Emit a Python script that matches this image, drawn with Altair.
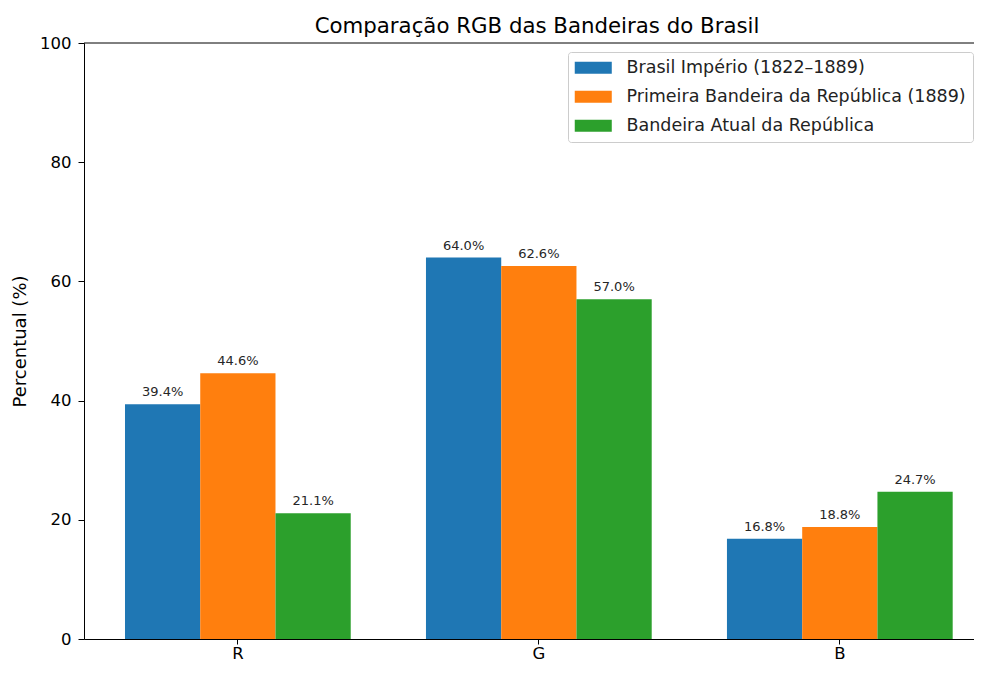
import altair as alt
import pandas as pd

canais = ["R", "G", "B"]
series = [
    "Brasil Império (1822–1889)",
    "Primeira Bandeira da República (1889)",
    "Bandeira Atual da República",
]
valores_imperio = [39.4, 64.0, 16.8]
valores_primeira = [44.6, 62.6, 18.8]
valores_atual = [21.1, 57.0, 24.7]
cores = ["#1f77b4", "#ff7f0e", "#2ca02c"]
y_ticks = [0, 20, 40, 60, 80, 100]

rows = []
for s, vals in zip(series, [valores_imperio, valores_primeira, valores_atual]):
    for c, v in zip(canais, vals):
        rows.append({"canal": c, "serie": s, "valor": v, "rotulo": f"{v:.1f}%"})
df = pd.DataFrame(rows)

FONT = "DejaVu Sans"

x_enc = alt.X(
    "canal:N",
    sort=canais,
    title=None,
    scale=alt.Scale(paddingInner=0.25, paddingOuter=0.1035, align=0.658, round=False),
    axis=alt.Axis(labelAngle=0, labelFontSize=16.5, labelColor="black", tickColor="black",
                  tickSize=5, labelPadding=1, domainColor="black", labelFont=FONT),
)
xo_enc = alt.XOffset("serie:N", sort=series,
                     scale=alt.Scale(paddingInner=0, paddingOuter=0))
y_enc = alt.Y(
    "valor:Q",
    scale=alt.Scale(domain=[0, 100], nice=False),
    title="Percentual (%)",
    axis=alt.Axis(values=y_ticks, grid=False, labelFontSize=16.5, labelColor="black",
                  tickColor="black", tickSize=6, labelPadding=7, domainColor="black",
                  titleFontSize=18, titleFontWeight="normal", titleColor="black",
                  titlePadding=10, labelFont=FONT, titleFont=FONT),
)

bars = alt.Chart(df).mark_bar().encode(
    x=x_enc,
    xOffset=xo_enc,
    y=y_enc,
    color=alt.Color(
        "serie:N",
        sort=series,
        scale=alt.Scale(domain=series, range=cores),
        legend=alt.Legend(
            title=None, orient="none", legendX=484, legendY=9,
            symbolType="M-1.5,-1H4.67V1H-1.5Z", symbolSize=144,
            symbolStrokeWidth=0, symbolOpacity=1,
            labelFontSize=17.5, labelFont=FONT, labelColor="#222222",
            labelOffset=34, rowPadding=10, padding=7,
            strokeColor="#cccccc", fillColor="white", cornerRadius=3,
            labelLimit=600,
        ),
    ),
)

labels = alt.Chart(df).mark_text(
    baseline="bottom", dy=-5, fontSize=13, font=FONT, color="#262626"
).encode(
    x=x_enc,
    xOffset=xo_enc,
    y=alt.Y("valor:Q"),
    text="rotulo:N",
)

top_line = alt.Chart(pd.DataFrame({"v": [100]})).mark_rule(
    color="black", strokeWidth=1
).encode(y=alt.Y("v:Q"))

chart = alt.layer(bars, labels, top_line).properties(
    width=890,
    height=596,
    title=alt.TitleParams(
        "Comparação RGB das Bandeiras do Brasil",
        fontSize=21.3, font=FONT, fontWeight="normal", color="black",
        offset=-2, dx=8,
    ),
    autosize=alt.AutoSizeParams(type="none"),
    padding={"left": 76, "top": 35, "right": 0, "bottom": 23},
).configure_view(stroke=None)

chart.save("out.html", embed_options={"renderer": "svg", "actions": False})
